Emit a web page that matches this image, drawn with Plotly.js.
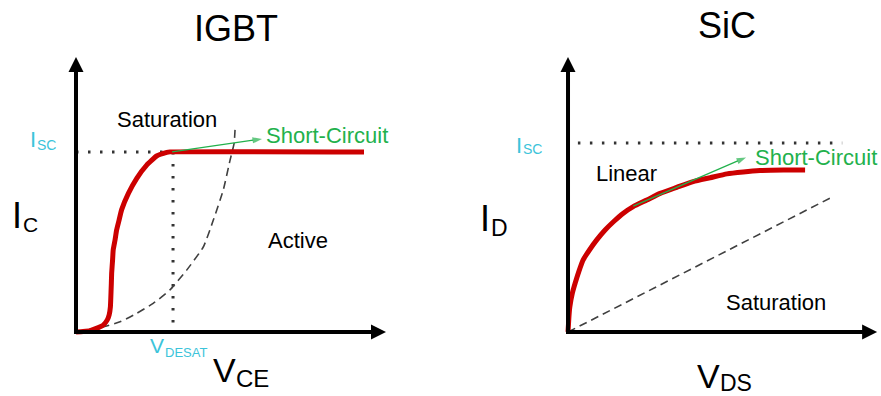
<!DOCTYPE html>
<html>
<head>
<meta charset="utf-8">
<script src="https://cdn.plot.ly/plotly-3.0.1.min.js"></script>
<style>html,body{margin:0;padding:0;background:#fff;}#chart{width:881px;height:396px;}</style>
</head>
<body>
<div id="chart"></div>
<script>
// ---- IGBT panel data (arbitrary units) ----
const igbtCurveX = [0, 0.23, 0.45, 0.72, 0.88, 1.01, 1.07, 1.11, 1.12, 1.14, 1.15, 1.18, 1.20, 1.26, 1.31, 1.39, 1.47, 1.69, 1.96, 2.28, 2.60, 2.93, 3.03, 9.29];
const igbtCurveY = [0, 0.02, 0.05, 0.16, 0.25, 0.44, 0.62, 0.92, 1.16, 1.77, 2.13, 2.62, 2.98, 3.35, 3.71, 4.07, 4.44, 5.04, 5.59, 6.07, 6.40, 6.53, 6.55, 6.55];
const igbtBoundX = [0, 0.88, 1.42, 1.96, 2.49, 3.03, 3.57, 4.11, 4.43, 4.75, 4.97, 5.10, 5.13];
const igbtBoundY = [0, 0.19, 0.37, 0.68, 1.04, 1.53, 2.25, 3.10, 4.07, 5.16, 6.25, 6.86, 7.35];
const igbtIsc = 6.55;
const igbtVdesat = 3.13;
const igbtScArrowX = [3.10, 6.0];
const igbtScArrowY = [6.55, 7.02];

// ---- SiC panel data ----
const sicCurveX = [0, 0.03, 0.06, 0.14, 0.23, 0.36, 0.49, 0.71, 0.93, 1.20, 1.47, 1.79, 2.11, 2.55, 2.98, 3.52, 4.05, 4.60, 5.14, 5.67, 6.21, 6.97, 7.67];
const sicCurveY = [0, 0.56, 0.92, 1.41, 1.77, 2.23, 2.62, 3.01, 3.35, 3.71, 4.01, 4.32, 4.56, 4.80, 5.04, 5.26, 5.47, 5.61, 5.75, 5.82, 5.87, 5.89, 5.89];
const sicBoundX = [0, 8.55];
const sicBoundY = [0, 4.91];
const sicIsc = 6.87;
const sicIscSpan = [0.32, 8.87];
const sicScArrowX = [2.11, 5.76];
const sicScArrowY = [4.58, 6.35];

// ---- axis extent (both panels) ----
const axisMax = 10;

// ---- texts ----
const titles = ["IGBT", "SiC"];
const RED = "#CC0000", GREEN = "#22B14C", CYAN = "#3CC4DA", DARK = "#333333";
const FONT = "Liberation Sans, Arial, sans-serif";

const DOT = {color: DARK, width: 3, dash: "2.5px,9.5px"};
const traces = [
  {x: [0, igbtCurveX[22]], y: [igbtIsc, igbtIsc], xaxis: "x", yaxis: "y", mode: "lines", line: DOT},
  {x: [igbtVdesat, igbtVdesat], y: [igbtIsc, 0], xaxis: "x", yaxis: "y", mode: "lines", line: DOT},
  {x: igbtBoundX, y: igbtBoundY, xaxis: "x", yaxis: "y", mode: "lines",
   line: {color: "#404040", width: 1.6, dash: "8px,5px", shape: "spline", smoothing: 0.5}},
  {x: igbtCurveX, y: igbtCurveY, xaxis: "x", yaxis: "y", mode: "lines",
   line: {color: RED, width: 5, shape: "spline", smoothing: 0.4}},
  {x: igbtScArrowX, y: igbtScArrowY, xaxis: "x", yaxis: "y", mode: "lines+markers",
   line: {color: GREEN, width: 1.3},
   marker: {symbol: ["circle", "arrow"], size: [0, 10], angleref: "previous", color: GREEN, line: {width: 0}}},
  {x: sicIscSpan, y: [sicIsc, sicIsc], xaxis: "x2", yaxis: "y", mode: "lines", line: DOT},
  {x: sicBoundX, y: sicBoundY, xaxis: "x2", yaxis: "y", mode: "lines",
   line: {color: "#404040", width: 1.6, dash: "8px,5px"}},
  {x: sicCurveX, y: sicCurveY, xaxis: "x2", yaxis: "y", mode: "lines",
   line: {color: RED, width: 5, shape: "spline", smoothing: 0.5}},
  {x: sicScArrowX, y: sicScArrowY, xaxis: "x2", yaxis: "y", mode: "lines+markers",
   line: {color: GREEN, width: 1.3},
   marker: {symbol: ["circle", "arrow"], size: [0, 10], angleref: "previous", color: GREEN, line: {width: 0}}}
];

// axes: thick lines plus filled arrowheads (pixel-sized, anchored at the axis ends)
const shapes = [];
["x", "x2"].forEach(xr => {
  shapes.push({type: "line", xref: xr, yref: "y", x0: -0.065, y0: 0, x1: axisMax - 0.3, y1: 0, line: {color: "#000", width: 4}});
  shapes.push({type: "line", xref: xr, yref: "y", x0: 0, y0: -0.07, x1: 0, y1: axisMax - 0.3, line: {color: "#000", width: 4}});
  shapes.push({type: "path", xref: xr, yref: "y", xsizemode: "pixel", ysizemode: "pixel",
    xanchor: axisMax, yanchor: 0, path: "M0,0 L-15,7.5 L-15,-7.5 Z", fillcolor: "#000", line: {width: 0}});
  shapes.push({type: "path", xref: xr, yref: "y", xsizemode: "pixel", ysizemode: "pixel",
    xanchor: 0, yanchor: axisMax, path: "M0,0 L-7.5,-15 L7.5,-15 Z", fillcolor: "#000", line: {width: 0}});
});

function txt(xref, x, y, text, size, color, anchor) {
  return {xref: xref, yref: "y", x: x, y: y, text: text, showarrow: false,
    font: {family: FONT, size: size, color: color}, xanchor: anchor || "center", yanchor: "middle"};
}
function ptxt(px, py, text, size, color) {
  return {xref: "paper", yref: "paper", x: px / 881, y: (396 - py) / 396, text: text, showarrow: false,
    font: {family: FONT, size: size, color: color}, xanchor: "center", yanchor: "middle"};
}

const annotations = [
  ptxt(236, 28, titles[0], 36, "#000"),
  ptxt(727, 25, titles[1], 36, "#000"),
  // IGBT labels
  txt("x", 2.94, 7.71, "Saturation", 22, "#000"),
  txt("x", 7.15, 3.31, "Active", 22, "#000"),
  txt("x", 6.06, 7.13, "Short-Circuit", 22, GREEN, "left"),
  ptxt(33, 139, "I", 22, CYAN), ptxt(46, 145, "SC", 14, CYAN),
  ptxt(16.5, 215, "I", 36, "#000"), ptxt(30.5, 224, "C", 21, "#000"),
  ptxt(157, 345, "V", 21, CYAN), ptxt(186, 352, "DESAT", 13, CYAN),
  ptxt(224, 370, "V", 34, "#000"), ptxt(252.5, 378, "CE", 24, "#000"),
  // SiC labels
  txt("x2", 1.90, 5.75, "Linear", 22, "#000"),
  txt("x2", 6.74, 1.09, "Saturation", 22, "#000"),
  txt("x2", 6.0, 6.36, "Short-Circuit", 22, GREEN, "left"),
  ptxt(518.5, 145, "I", 22, CYAN), ptxt(532, 149.5, "SC", 14, CYAN),
  ptxt(484.7, 219, "I", 36, "#000"), ptxt(499.2, 228, "D", 23, "#000"),
  ptxt(708.3, 376, "V", 34, "#000"), ptxt(736, 383, "DS", 23, "#000")
];

// pixel scale: 31 px per x unit (left), 30.9 (right), 27.5 px per y unit; origin at (76,332) and (568,332)
const hidden = {showgrid: false, zeroline: false, showline: false, showticklabels: false, ticks: "", fixedrange: true};
const layout = {
  width: 881, height: 396,
  margin: {l: 0, r: 0, t: 0, b: 0},
  paper_bgcolor: "#fff", plot_bgcolor: "rgba(0,0,0,0)",
  showlegend: false,
  xaxis: Object.assign({domain: [45/881, 401.5/881], range: [-1, 10.5]}, hidden),
  xaxis2: Object.assign({domain: [537.1/881, 880.2/881], range: [-1, 10.1], anchor: "y"}, hidden),
  yaxis: Object.assign({domain: [(396-345.75)/396, (396-43.25)/396], range: [-0.5, 10.5]}, hidden),
  shapes: shapes,
  annotations: annotations
};
traces.forEach(t => { t.hoverinfo = "skip"; t.cliponaxis = false; });
Plotly.newPlot("chart", traces, layout, {staticPlot: true});
</script>
</body>
</html>
